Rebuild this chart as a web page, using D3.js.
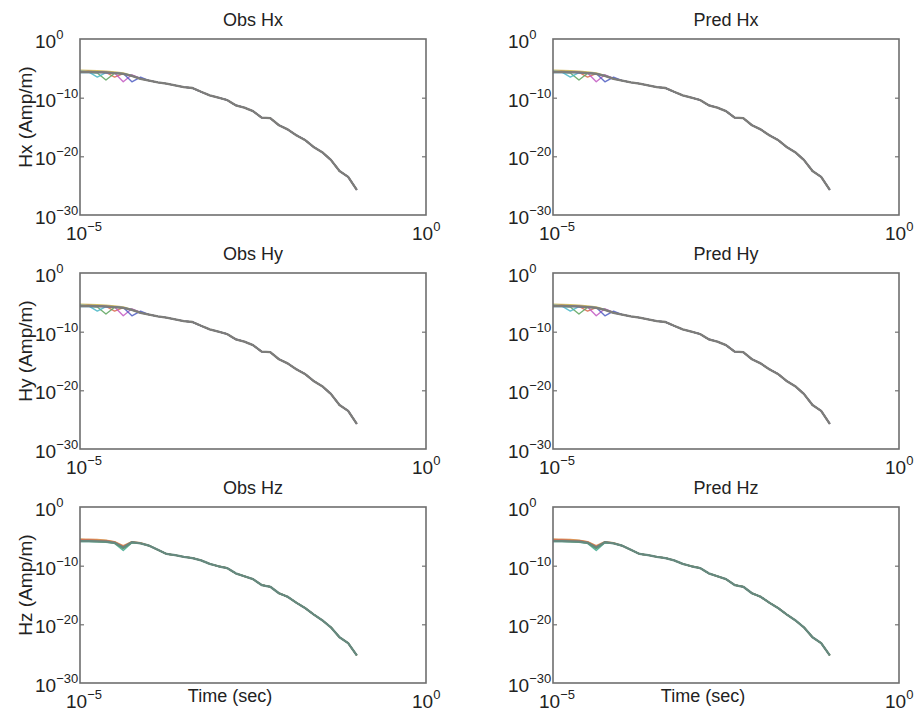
<!DOCTYPE html>
<meta charset="utf-8">
<script src="https://d3js.org/d3.v7.min.js"></script>
<style>
  body { margin: 0; background: #fff; }
  text { font-family: "Liberation Sans", Arial, sans-serif; fill: #222; }
</style>
<div id="my_dataviz"></div>
<script>

  // time gates, log10(seconds)
  var logTimes = [-5.0, -4.875, -4.75, -4.625, -4.5, -4.375, -4.25, -4.125, -4.0,
    -3.875, -3.75, -3.625, -3.5, -3.375, -3.25, -3.125, -3.0, -2.875, -2.75, -2.625,
    -2.5, -2.375, -2.25, -2.125, -2.0, -1.875, -1.75, -1.625, -1.5, -1.375, -1.25,
    -1.125, -1.0];

  // early gates (first 9) differ per station, log10(Amp/m)
  var earlyHx = [
    [-5.3, -5.35, -5.4, -5.5, -5.6, -5.8, -6.2, -6.7, -7.1],
    [-5.6, -5.55, -5.6, -5.7, -6.5, -5.9, -6.3, -6.8, -7.1],
    [-5.7, -5.7, -5.8, -7.0, -5.85, -5.95, -6.3, -6.8, -7.1],
    [-5.5, -5.6, -6.5, -5.75, -5.8, -5.9, -6.2, -6.7, -7.1],
    [-5.6, -5.6, -5.6, -5.7, -5.8, -7.3, -6.1, -6.7, -7.1],
    [-5.7, -5.7, -5.7, -5.75, -5.8, -5.9, -7.3, -6.5, -7.1],
    [-5.6, -5.6, -5.65, -5.7, -5.8, -5.95, -6.3, -6.8, -7.1]
  ];
  var earlyHy = [
    [-5.3, -5.35, -5.4, -5.5, -5.6, -5.8, -6.2, -6.7, -7.1],
    [-5.6, -5.55, -5.6, -5.7, -6.5, -5.9, -6.3, -6.8, -7.1],
    [-5.7, -5.7, -5.8, -7.0, -5.85, -5.95, -6.3, -6.8, -7.1],
    [-5.5, -5.6, -6.5, -5.75, -5.8, -5.9, -6.2, -6.7, -7.1],
    [-5.6, -5.6, -5.6, -5.7, -5.8, -7.3, -6.1, -6.7, -7.1],
    [-5.7, -5.7, -5.7, -5.75, -5.8, -5.9, -7.3, -6.5, -7.1],
    [-5.6, -5.6, -5.65, -5.7, -5.8, -5.95, -6.3, -6.8, -7.1]
  ];
  var earlyHz = [
    [-5.5, -5.6, -5.6, -5.7, -5.95, -6.8, -6.0, -6.2, -6.6],
    [-5.5, -5.5, -5.55, -5.65, -5.9, -6.6, -5.9, -6.1, -6.6],
    [-5.9, -5.9, -5.95, -6.0, -6.2, -7.4, -6.1, -6.2, -6.6],
    [-5.7, -5.7, -5.75, -5.8, -6.05, -7.0, -6.0, -6.2, -6.6],
    [-5.6, -5.6, -5.7, -5.75, -6.0, -6.7, -5.95, -6.15, -6.6],
    [-5.8, -5.85, -5.9, -5.95, -6.15, -7.1, -6.05, -6.2, -6.6],
    [-5.8, -5.8, -5.85, -5.9, -6.1, -6.9, -6.0, -6.2, -6.6]
  ];

  // late gates, shared by all stations
  var tailHx = [-7.4, -7.6, -7.9, -8.2, -8.35, -9.0, -9.6, -10.0, -10.4, -11.3, -11.7,
    -12.3, -13.4, -13.5, -14.7, -15.4, -16.4, -17.2, -18.4, -19.3, -20.6, -22.5, -23.5, -25.7];
  var tailHy = [-7.4, -7.6, -7.9, -8.2, -8.35, -9.0, -9.6, -10.0, -10.4, -11.3, -11.7,
    -12.3, -13.4, -13.5, -14.7, -15.4, -16.4, -17.2, -18.4, -19.3, -20.6, -22.5, -23.5, -25.7];
  var tailHz = [-7.3, -8.0, -8.2, -8.5, -8.7, -9.1, -9.7, -10.1, -10.4, -11.3, -11.8,
    -12.3, -13.3, -13.6, -14.7, -15.3, -16.3, -17.2, -18.3, -19.3, -20.5, -22.2, -23.2, -25.3];

  var colorsH = ["#c9b24c", "#d9684c", "#5ca35c", "#48b6c6", "#c258c2", "#4c5cc2", "#7d7d7a"];
  var colorsZ = ["#c9a84c", "#d98a4c", "#3fa88e", "#4c7cc2", "#d9684c", "#5ca35c", "#66897f"];

  var titles = [["Obs Hx", "Pred Hx"], ["Obs Hy", "Pred Hy"], ["Obs Hz", "Pred Hz"]];
  var yLabels = ["Hx (Amp/m)", "Hy (Amp/m)", "Hz (Amp/m)"];
  var xTickExps = [-5, 0];
  var yTickExps = [0, -10, -20, -30];

  var rowsData = [[earlyHx, tailHx, colorsH], [earlyHy, tailHy, colorsH], [earlyHz, tailHz, colorsZ]];

  var width = 346, height = 176;
  var colX = [80, 553], rowY = [39, 273, 507];

  var svg = d3.select("#my_dataviz")
    .append("svg")
    .attr("width", 919)
    .attr("height", 712);

  var x = d3.scaleLog().domain([1e-5, 1]).range([0, width]);
  var y = d3.scaleLog().domain([1e-30, 1]).range([height, 0]);

  var line = d3.line()
    .x(function (d) { return x(Math.pow(10, d[0])) })
    .y(function (d) { return y(Math.pow(10, d[1])) });

  // 10^n label as base + superscript
  function powLabel(sel, n, bx, by) {
    var t = sel.append("text").attr("x", bx).attr("y", by).style("font-size", "19px");
    t.append("tspan").text("10");
    t.append("tspan").attr("dy", -9).style("font-size", "13px").text(n === 0 ? "0" : "\u2212" + Math.abs(n));
  }

  rowsData.forEach(function (rd, r) {
    var early = rd[0], tail = rd[1], colors = rd[2];
    var series = early.map(function (e) {
      return e.concat(tail).map(function (v, i) { return [logTimes[i], v]; });
    });

    [0, 1].forEach(function (c) {
      var g = svg.append("g")
        .attr("transform", "translate(" + colX[c] + "," + rowY[r] + ")");

      series.forEach(function (s, k) {
        var last = k === series.length - 1;
        g.append("path")
          .datum(s)
          .attr("fill", "none")
          .attr("stroke", colors[k])
          .attr("stroke-width", last ? 2.3 : 1.4)
          .attr("stroke-opacity", last ? 1 : 0.85)
          .attr("stroke-linejoin", "round")
          .attr("d", line);
      });

      // inward ticks, left and right
      g.append("g")
        .call(d3.axisRight(y).tickValues([1e-10, 1e-20]).tickSize(4).tickFormat(""))
        .call(function (a) { a.select(".domain").remove(); a.selectAll("line").attr("stroke", "#555"); });
      g.append("g")
        .attr("transform", "translate(" + width + ",0)")
        .call(d3.axisLeft(y).tickValues([1e-10, 1e-20]).tickSize(4).tickFormat(""))
        .call(function (a) { a.select(".domain").remove(); a.selectAll("line").attr("stroke", "#555"); });

      g.append("rect")
        .attr("width", width)
        .attr("height", height)
        .attr("fill", "none")
        .attr("stroke", "#6e6e6e")
        .attr("stroke-width", 1.6);

      g.append("text")
        .attr("x", width / 2)
        .attr("y", -13)
        .attr("text-anchor", "middle")
        .style("font-size", "18px")
        .text(titles[r][c]);

      yTickExps.forEach(function (n) {
        powLabel(g, n, -45, y(Math.pow(10, n)) + 9);
      });
      xTickExps.forEach(function (n) {
        powLabel(g, n, x(Math.pow(10, n)) - 14, height + 25);
      });

      if (r === 2) {
        g.append("text")
          .attr("x", width / 2 - 23)
          .attr("y", height + 19)
          .attr("text-anchor", "middle")
          .style("font-size", "18px")
          .text("Time (sec)");
      }
      if (c === 0) {
        g.append("text")
          .attr("transform", "translate(-48," + (height / 2 - 10) + ") rotate(-90)")
          .attr("text-anchor", "middle")
          .style("font-size", "19px")
          .text(yLabels[r]);
      }
    });
  });

</script>
